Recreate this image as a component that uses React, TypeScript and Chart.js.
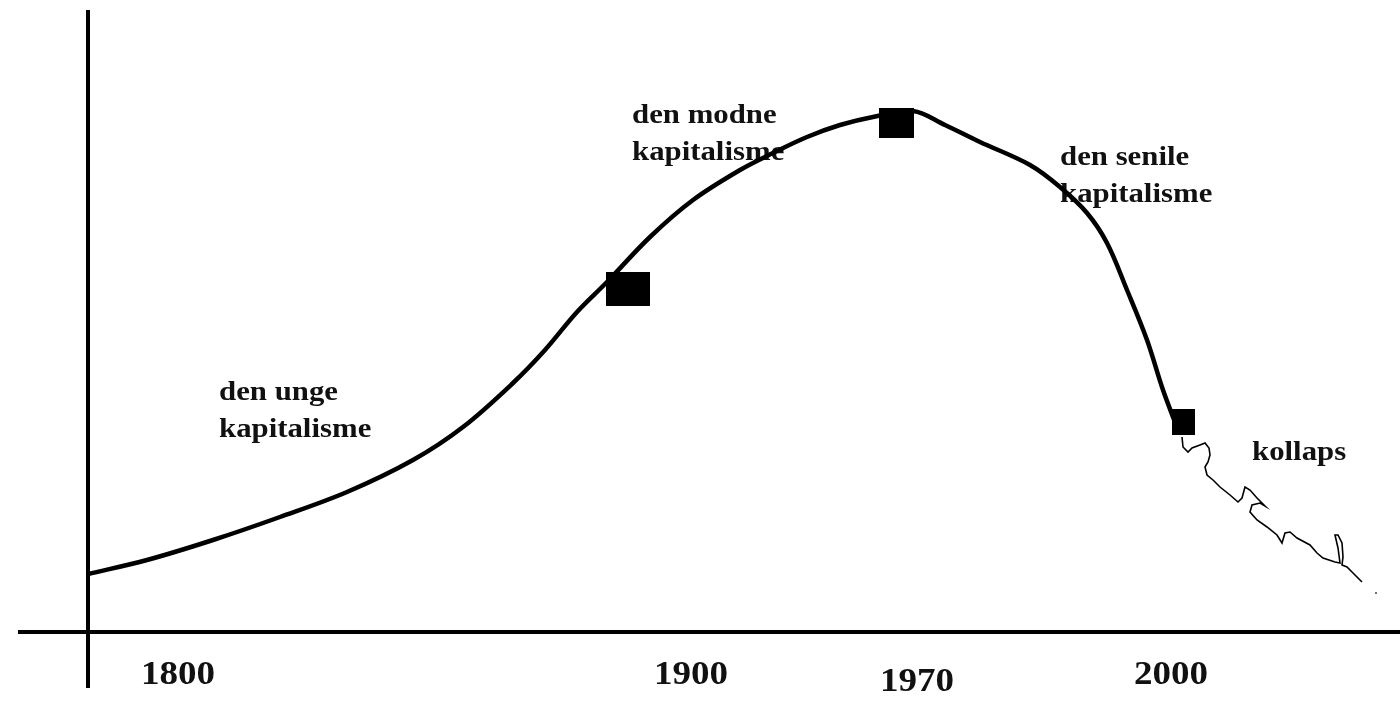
import React, { useEffect, useRef } from "react";
import { Chart, registerables } from "chart.js";

Chart.register(...registerables);

// Main curve: development of capitalism (x = time units from the vertical axis, y = level above the horizontal axis)
const curveX = [0, 59, 125, 192, 259, 325, 375, 425, 457, 489, 519, 562, 605, 652, 685, 719, 752, 785, 825, 857, 892, 942, 972, 999, 1019, 1039, 1059, 1075, 1090];
const curveY = [58, 72, 92, 115, 140, 172, 205, 249, 282, 320, 350, 395, 432, 462, 479, 495, 507, 515, 521, 507, 490, 467, 445, 419, 389, 342, 292, 242, 202];

// Collapse scribble
const collapseX = [1094, 1095, 1100, 1104, 1112, 1117, 1121, 1122, 1120, 1117, 1119, 1125, 1132, 1142, 1150, 1154, 1157, 1162, 1169, 1177, 1172, 1164, 1162, 1169, 1179, 1189, 1194, 1197, 1202, 1209, 1222, 1229, 1235, 1247, 1252, 1250, 1247, 1250, 1254, 1255, 1254, 1259, 1265, 1274];
const collapseY = [195, 185, 180, 184, 187, 189, 184, 177, 170, 165, 157, 152, 145, 137, 130, 134, 145, 142, 134, 126, 129, 127, 120, 112, 105, 97, 89, 99, 100, 94, 87, 79, 74, 70, 69, 84, 97, 97, 89, 75, 67, 65, 59, 50];
const strayDotX = [1288];
const strayDotY = [39];

// Phase markers
const markerX = [540, 808, 1095];
const markerY = [343, 509, 210];
const markerW = [44, 35, 23];
const markerH = [34, 30, 26];

// Axes extents
const xAxisFrom = -70;
const xAxisTo = 1312;
const yAxisFrom = -56;
const yAxisTo = 622;

// Tick labels
const tickLabels = ["1800", "1900", "1970", "2000"];
const tickX = [90, 603, 829, 1083];
const tickY = [-52, -52, -59, -52];

// Phase labels
const phaseLines = ["den unge", "kapitalisme", "den modne", "kapitalisme", "den senile", "kapitalisme", "kollaps"];
const phaseX = [131, 131, 544, 544, 972, 972, 1164];
const phaseY = [232, 195, 509, 472, 467, 430, 172];

const zip = (xs: number[], ys: number[]) => xs.map((x, i) => ({ x, y: ys[i] }));

export default function App() {
  const ref = useRef<HTMLCanvasElement | null>(null);

  useEffect(() => {
    if (!ref.current) return;
    const markerImgs = markerW.map((w, i) => {
      const c = document.createElement("canvas");
      c.width = w;
      c.height = markerH[i];
      const cx = c.getContext("2d")!;
      cx.fillStyle = "#000";
      cx.fillRect(0, 0, w, markerH[i]);
      return c;
    });

    const drawStretched = (ctx: any, t: string, x: number, y: number, sx: number, align: string) => {
      ctx.save();
      ctx.translate(x, y);
      ctx.scale(sx, 1);
      ctx.textAlign = align;
      ctx.fillText(t, 0, 0);
      ctx.restore();
    };

    const textPlugin = {
      id: "texts",
      beforeDatasetsDraw(chart: any) {
        const { ctx, scales } = chart;
        ctx.save();
        ctx.fillStyle = "#111";
        ctx.textBaseline = "alphabetic";
        ctx.font = "bold 28px 'Liberation Serif', 'Times New Roman', serif";
        phaseLines.forEach((t, i) => {
          drawStretched(ctx, t, scales.x.getPixelForValue(phaseX[i]), scales.y.getPixelForValue(phaseY[i]), 1.1, "left");
        });
        ctx.font = "bold 34px 'Liberation Serif', 'Times New Roman', serif";
        tickLabels.forEach((t, i) => {
          drawStretched(ctx, t, scales.x.getPixelForValue(tickX[i]), scales.y.getPixelForValue(tickY[i]), 1.09, "center");
        });
        ctx.restore();
      },
    };

    const chart = new Chart(ref.current, {
      type: "scatter",
      data: {
        datasets: [
          {
            label: "markers",
            data: zip(markerX, markerY),
            pointStyle: markerImgs as any,
            showLine: false,
            order: 0,
            clip: false,
          } as any,
          {
            label: "curve",
            data: zip(curveX, curveY),
            showLine: true,
            borderColor: "#000",
            borderWidth: 4.5,
            pointRadius: 0,
            tension: 0.35,
            order: 1,
            clip: false,
          },
          {
            label: "collapse",
            data: zip(collapseX, collapseY),
            showLine: true,
            borderColor: "#000",
            borderWidth: 1.6,
            pointRadius: 0,
            tension: 0,
            order: 2,
            clip: false,
          },
          {
            label: "dot",
            data: zip(strayDotX, strayDotY),
            pointRadius: 1,
            backgroundColor: "#444",
            borderWidth: 0,
            order: 2,
            clip: false,
          },
          {
            label: "xAxis",
            data: [{ x: xAxisFrom, y: 0 }, { x: xAxisTo, y: 0 }],
            showLine: true,
            borderColor: "#000",
            borderWidth: 4,
            pointRadius: 0,
            order: 3,
            clip: false,
          },
          {
            label: "yAxis",
            data: [{ x: 0, y: yAxisFrom }, { x: 0, y: yAxisTo }],
            showLine: true,
            borderColor: "#000",
            borderWidth: 4,
            pointRadius: 0,
            order: 3,
            clip: false,
          },
        ],
      },
      options: {
        animation: false,
        responsive: true,
        maintainAspectRatio: false,
        layout: { padding: 0, autoPadding: false },
        plugins: { legend: { display: false }, tooltip: { enabled: false } },
        scales: {
          x: { type: "linear", min: -88, max: 1312, display: false },
          y: { type: "linear", min: -69, max: 632, display: false },
        },
      },
      plugins: [textPlugin],
    });
    return () => chart.destroy();
  }, []);

  return (
    <div style={{ position: "fixed", left: 0, top: 0, width: 1400, height: 701, background: "#fff" }}>
      <canvas ref={ref} />
    </div>
  );
}
